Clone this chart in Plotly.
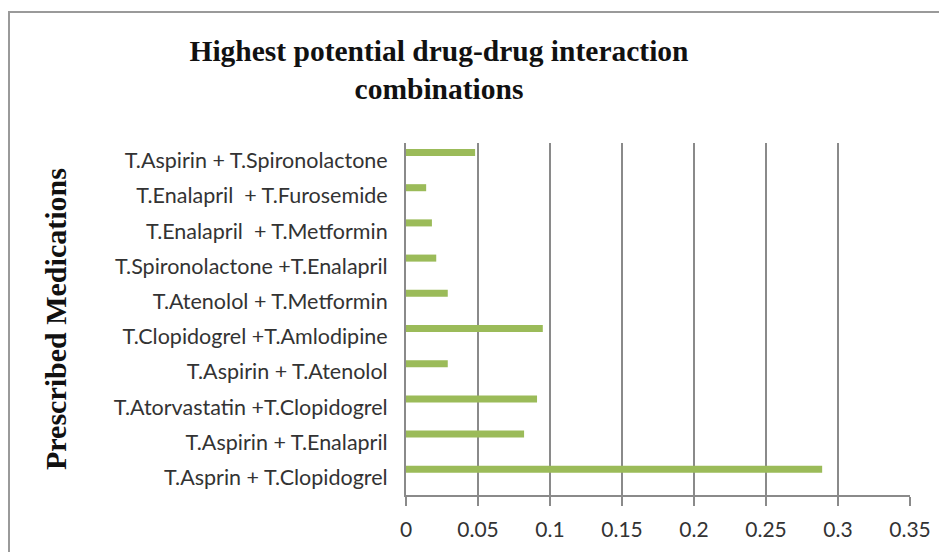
import plotly.graph_objects as go

# Data (top-to-bottom as read in the chart)
medications = [
    "T.Aspirin + T.Spironolactone",
    "T.Enalapril  + T.Furosemide",
    "T.Enalapril  + T.Metformin",
    "T.Spironolactone +T.Enalapril",
    "T.Atenolol + T.Metformin",
    "T.Clopidogrel +T.Amlodipine",
    "T.Aspirin + T.Atenolol",
    "T.Atorvastatin +T.Clopidogrel",
    "T.Aspirin + T.Enalapril",
    "T.Asprin + T.Clopidogrel",
]
interaction_values = [0.048, 0.014, 0.018, 0.021, 0.029, 0.095, 0.029, 0.091, 0.082, 0.289]
x_tick_values = [0, 0.05, 0.1, 0.15, 0.2, 0.25, 0.3, 0.35]
x_tick_labels = ["0", "0.05", "0.1", "0.15", "0.2", "0.25", "0.3", "0.35"]

title_text = "Highest potential drug-drug interaction<br>combinations"
y_title_text = "Prescribed Medications"

W, H = 947, 552
OFF = 8  # page body margin
# plot area in page coordinates: x 406..910, y 143..495
L = 406 - OFF
T = 143 - OFF
R = W - (910 - OFF)
B = H - (495 - OFF)
pw, ph = W - L - R, H - T - B

fig = go.Figure()
fig.add_trace(go.Bar(
    x=interaction_values,
    y=medications,
    orientation="h",
    marker=dict(color="#9BBB59", line=dict(width=0)),
    width=0.2,
    offset=0.13,
    hoverinfo="x+y",
))

grid_col = "#8a8a8a"
fig.update_layout(
    width=W, height=H,
    margin=dict(l=L, r=R, t=T, b=B, autoexpand=False),
    paper_bgcolor="white",
    plot_bgcolor="white",
    showlegend=False,
    title=dict(
        text=title_text,
        x=(439 - OFF) / W, xanchor="center", xref="container",
        y=1 - (61 - OFF) / H, yanchor="top",
        font=dict(family="Liberation Serif", size=29.5, color="#111111", weight="bold"),
    ),
    xaxis=dict(
        range=[0, 0.35],
        tickvals=x_tick_values,
        ticktext=x_tick_labels,
        showgrid=True, gridcolor=grid_col, gridwidth=2,
        showline=True, linecolor=grid_col, linewidth=2,
        ticks="outside", ticklen=9, tickwidth=2, tickcolor=grid_col,
        ticklabelstandoff=6,
        zeroline=False,
        tickfont=dict(family="Lato", size=21, color="#333333"),
        fixedrange=True,
    ),
    yaxis=dict(
        categoryorder="array",
        categoryarray=list(reversed(medications)),
        range=[-0.5, len(medications) - 0.5],
        showgrid=False,
        showline=True, linecolor=grid_col, linewidth=2,
        ticks="", ticklabelstandoff=12,
        tickfont=dict(family="Lato", size=21.5, color="#333333"),
        fixedrange=True,
    ),
)

# Y axis title as annotation
fig.add_annotation(
    text=y_title_text,
    xref="paper", yref="paper",
    x=(55 - OFF - L) / pw, y=0.5,
    textangle=-90, showarrow=False,
    xanchor="center", yanchor="middle",
    font=dict(family="Liberation Serif", size=30, color="#111111", weight="bold"),
)

# Outer chart border
fig.add_shape(
    type="rect", xref="paper", yref="paper",
    x0=(9 - OFF - L) / pw, x1=(W + 20 - L) / pw,
    y0=-(B + 20) / ph, y1=1 + (T - (12 - OFF)) / ph,
    line=dict(color="#9a9a9a", width=2),
    fillcolor="rgba(0,0,0,0)",
    layer="below",
)

fig.write_html("out.html")
